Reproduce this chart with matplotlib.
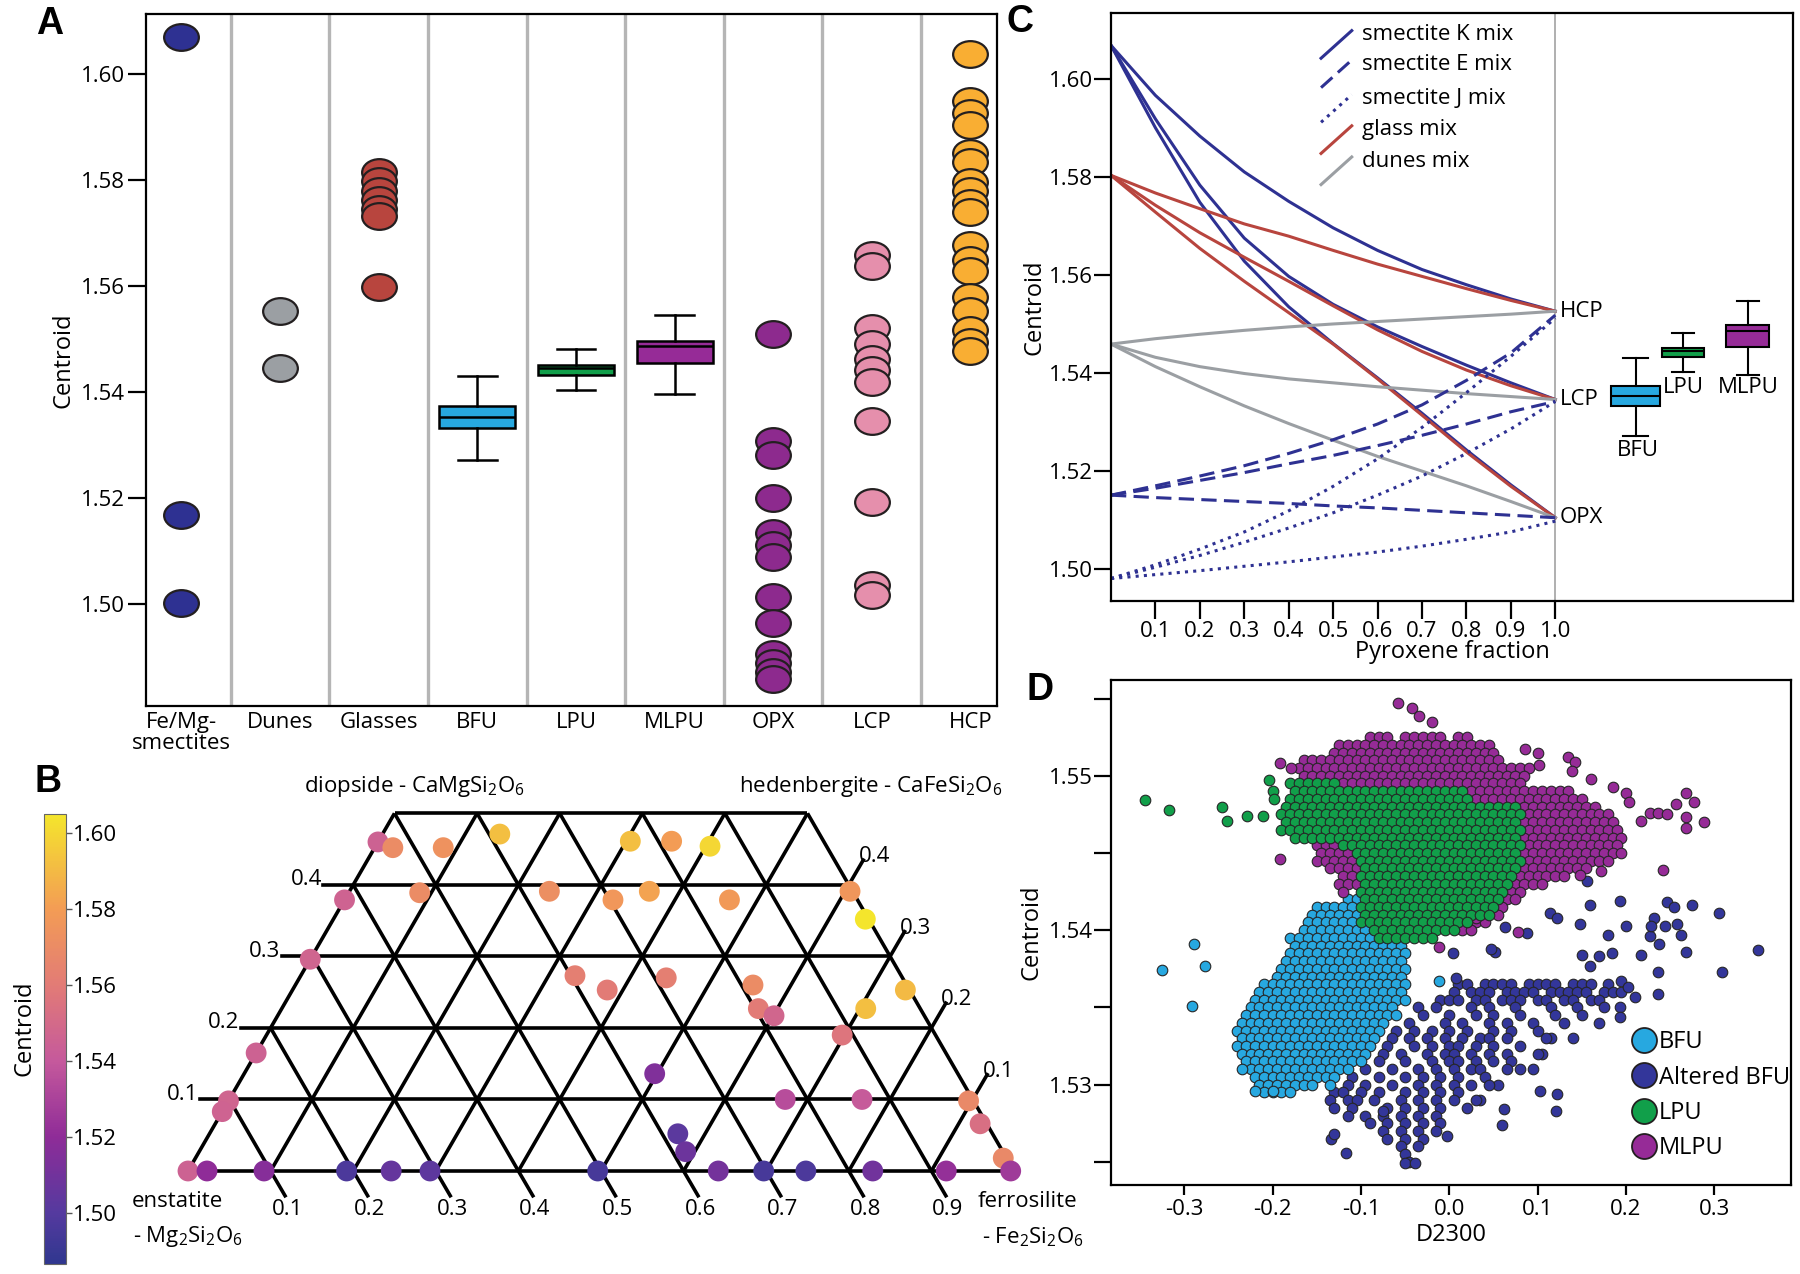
import numpy as np
import matplotlib
matplotlib.use("Agg")
import matplotlib.pyplot as plt
from matplotlib.path import Path
from matplotlib.transforms import Affine2D
from matplotlib.colors import LinearSegmentedColormap
from matplotlib.lines import Line2D

plt.rcParams["font.family"] = ["Open Sans", "DejaVu Sans"]
plt.rcParams["mathtext.fontset"] = "custom"
plt.rcParams["mathtext.rm"] = "Open Sans"
plt.rcParams["mathtext.it"] = "Open Sans"
plt.rcParams["mathtext.default"] = "regular"
plt.rcParams["axes.linewidth"] = 1.6
plt.rcParams["axes.unicode_minus"] = False

# ---------------- panel A data ----------------
a_categories = ["Fe/Mg-\nsmectites", "Dunes", "Glasses", "BFU", "LPU", "MLPU", "OPX", "LCP", "HCP"]
smectite_vals = [1.6069, 1.5168, 1.5003]
dunes_vals = [1.5553, 1.5445]
glass_vals = [1.5815, 1.5798, 1.5780, 1.5762, 1.5746, 1.5733, 1.5598]
opx_vals = [1.5510, 1.5308, 1.5281, 1.5201, 1.5134, 1.5111, 1.5089, 1.5014,
            1.4965, 1.4907, 1.4889, 1.4872, 1.4858]
lcp_vals = [1.5659, 1.5637, 1.5521, 1.5491, 1.5463, 1.5441, 1.5419, 1.5345,
            1.5192, 1.5036, 1.5017]
hcp_vals = [1.6037, 1.5948, 1.5926, 1.5904, 1.5851, 1.5833, 1.5797, 1.5779,
            1.5757, 1.5740, 1.5677, 1.5650, 1.5628, 1.5579, 1.5553, 1.5517,
            1.5494, 1.5477]
# whisker low, q1, median, q3, whisker high
bfu_box = [1.5272, 1.5332, 1.5353, 1.5374, 1.5430]
lpu_box = [1.5403, 1.5432, 1.5445, 1.5452, 1.5481]
mlpu_box = [1.5396, 1.5454, 1.5486, 1.5497, 1.5546]

# ---------------- panel B data (Fs, Wo, centroid) ----------------
b_fs = [0.000, 0.022, 0.083, 0.142, 0.000, 0.086, 0.000, 0.000, 0.000, 0.000,
        0.000, 0.023, 0.092, 0.192, 0.246, 0.293, 0.305, 0.355, 0.405, 0.242,
        0.325, 0.363, 0.466, 0.606, 0.644, 0.742, 0.707, 0.332, 0.381, 0.444,
        0.554, 0.577, 0.601, 0.697, 0.497, 0.673, 0.766, 0.896, 0.926, 0.978,
        0.996, 0.567, 0.589, 0.496, 0.642, 0.697, 0.748, 0.829, 0.918]
b_wo = [0.460, 0.452, 0.452, 0.471, 0.379, 0.389, 0.296, 0.165, 0.098, 0.083,
        0.000, 0.000, 0.000, 0.000, 0.000, 0.000, 0.461, 0.461, 0.454, 0.391,
        0.379, 0.391, 0.379, 0.391, 0.352, 0.253, 0.227, 0.273, 0.253, 0.270,
        0.260, 0.227, 0.217, 0.190, 0.136, 0.100, 0.100, 0.098, 0.066, 0.018,
        0.000, 0.052, 0.027, 0.000, 0.000, 0.000, 0.000, 0.000, 0.000]
b_centroid = [1.545, 1.570, 1.574, 1.592, 1.546, 1.570, 1.547, 1.545, 1.547, 1.546,
              1.545, 1.520, 1.517, 1.497, 1.506, 1.503, 1.592, 1.580, 1.600, 1.572,
              1.577, 1.582, 1.578, 1.576, 1.605, 1.590, 1.592, 1.562, 1.560, 1.562,
              1.570, 1.560, 1.548, 1.556, 1.515, 1.535, 1.541, 1.568, 1.553, 1.568,
              1.526, 1.502, 1.508, 1.495, 1.511, 1.495, 1.497, 1.510, 1.522]
b_grid_ticks = ["0.1", "0.2", "0.3", "0.4", "0.5", "0.6", "0.7", "0.8", "0.9"]

# ---------------- panel C data ----------------
pyx_frac = [0.0, 0.1, 0.2, 0.3, 0.4, 0.5, 0.6, 0.7, 0.8, 0.9, 1.0]
smecK_hcp = [1.6068, 1.5966, 1.5883, 1.5810, 1.5750, 1.5696, 1.5650, 1.5611, 1.5580, 1.5551, 1.5526]
smecK_lcp = [1.6068, 1.5918, 1.5783, 1.5675, 1.5597, 1.5540, 1.5494, 1.5454, 1.5416, 1.5380, 1.5346]
smecK_opx = [1.6068, 1.5900, 1.5748, 1.5628, 1.5535, 1.5460, 1.5390, 1.5318, 1.5243, 1.5172, 1.5105]
smecE_hcp = [1.5151, 1.5170, 1.5190, 1.5211, 1.5236, 1.5264, 1.5296, 1.5335, 1.5385, 1.5441, 1.5518]
smecE_lcp = [1.5151, 1.5165, 1.5181, 1.5197, 1.5215, 1.5232, 1.5252, 1.5273, 1.5296, 1.5321, 1.5342]
smecE_opx = [1.5151, 1.5146, 1.5142, 1.5138, 1.5134, 1.5129, 1.5125, 1.5120, 1.5115, 1.5110, 1.5105]
smecJ_hcp = [1.4981, 1.5009, 1.5041, 1.5076, 1.5119, 1.5169, 1.5225, 1.5289, 1.5360, 1.5434, 1.5512]
smecJ_lcp = [1.4981, 1.5004, 1.5028, 1.5055, 1.5084, 1.5115, 1.5151, 1.5190, 1.5236, 1.5286, 1.5342]
smecJ_opx = [1.4981, 1.4989, 1.4997, 1.5006, 1.5015, 1.5025, 1.5035, 1.5047, 1.5061, 1.5076, 1.5098]
glass_hcp = [1.5803, 1.5767, 1.5735, 1.5704, 1.5679, 1.5650, 1.5622, 1.5597, 1.5572, 1.5548, 1.5526]
glass_lcp = [1.5803, 1.5742, 1.5686, 1.5636, 1.5587, 1.5537, 1.5488, 1.5444, 1.5406, 1.5374, 1.5346]
glass_opx = [1.5803, 1.5728, 1.5654, 1.5587, 1.5523, 1.5459, 1.5388, 1.5314, 1.5239, 1.5169, 1.5105]
dunes_hcp = [1.5459, 1.5470, 1.5479, 1.5487, 1.5494, 1.5500, 1.5505, 1.5510, 1.5515, 1.5520, 1.5526]
dunes_lcp = [1.5459, 1.5432, 1.5413, 1.5399, 1.5388, 1.5380, 1.5372, 1.5365, 1.5358, 1.5352, 1.5346]
dunes_opx = [1.5459, 1.5413, 1.5372, 1.5333, 1.5297, 1.5263, 1.5230, 1.5200, 1.5170, 1.5138, 1.5105]
pyx_endmembers = ["HCP", "LCP", "OPX"]
pyx_end_vals = [1.5526, 1.5346, 1.5105]
c_legend = ["smectite K mix", "smectite E mix", "smectite J mix", "glass mix", "dunes mix"]

# ---------------- panel D data ----------------
# density map of the dense clusters: one character per point
# b = BFU, a = Altered BFU, g = LPU, m = MLPU
d_map = [
    "...............mmm.mmmmm.mm...................",
    "...........mmmmmmmmmmmmmmmmmm.................",
    "...........mmmmmmmmmmmmmmmmmmm................",
    ".......mmmmmmmmmmmmmmmmmmmmmmm................",
    ".......mmmmmmmmmmmmmmmmmmmmmmmmmmm............",
    ".......mmmmmmmmmmmmmmmmmmmmmmmmmm.............",
    "......ggggggmmmmmmmmmmmmmmmmmmmmm.............",
    "......ggggggggggggggggggggmmmmmmmmmmmm........",
    "......gggggggggggggggggggggmmmmmmmmmmmmm......",
    ".....gggggggggggggggggggggggggggmmmmmmmmm.....",
    ".....ggggggggggggggggggggggggggggmmmmmmmmmm...",
    ".....gggggggggggggggggggggggggggmmmmmmmmmmm...",
    ".....ggggggggggggggggggggggggggggmmmmmmmmmmm..",
    "......ggggggggggggggggggggggggggmmmmmmmmmmmm..",
    ".........mmmgggggggggggggggggggggmmmmmmmmmmm..",
    ".........mmmmgggggggggggggggggggmmmmmmmmmmmm..",
    ".........mmmmmgggggggggggggggggggmmmmmmmmmm...",
    "..........mmmmggggggggggggggggggmmmmmmmm......",
    "............mmggggggggggggggggggmmmmmm........",
    "...........mmmgggggggggggggggggmmmm...........",
    "............m.gggggggggggggggggmm.............",
    "............bbggggggggggggggggmm..............",
    ".........bbbbbggggggggggggggggm...............",
    "........bbbbbbgggggggggggggggm................",
    "........bbbbbbgggggggggggggmm.................",
    ".......bbbbbbbbggggggggggmm...................",
    "......bbbbbbbbbbggggggg.......................",
    "......bbbbbbbbbbbbb...........................",
    "......bbbbbbbbbbbbbb..........................",
    ".....bbbbbbbbbbbbbb...........................",
    ".....bbbbbbbbbbbbbbb..........................",
    "....bbbbbbbbbbbbbbb...........................",
    "...bbbbbbbbbbbbbbbbb.....aa.aaaa.aaaa.aaa.a...",
    "..bbbbbbbbbbbbbbbbb.....a.aaa.aaaa.aaaaa.aaa..",
    "..bbbbbbbbbbbbbbbbbb...aaa.aa.aaa.aa.aa.aa....",
    ".bbbbbbbbbbbbbbbbb..a.a...a.a..a...a..a..a....",
    ".bbbbbbbbbbbbbbbbbb..a..a..a.a..a...a.........",
    "bbbbbbbbbbbbbbbbb..a...a.a..a.a..a............",
    "bbbbbbbbbbbbbbbbb.a.a.a.a.a..a.a..a...........",
    "bbbbbbbbbbbbbbbb.a.a.a.a.a.aa.a....a..........",
    "bbbbbbbbbbbbbbbb.a..a.a.aa.a.a..a.............",
    "bbbbbbbbbbbbbbb.a.a..a.aa.a.a.a...a...........",
    ".bbbbbbbbbbbbbb.a..a..a.aa.a.a.a..............",
    ".bbbbbbbbbbbb.a..a..a.a.a.aa..a..a............",
    "..bbbbbbbbbb.a..a..a.a.a.a..a.................",
    "..bbbbbbb.b.a.a..a..a.a.a.a..a................",
    "...bbbb....aa.a.a..a.a.a.a....................",
    "..........a.aa.a..a.a.a.a..a..................",
    "...........a.a...a.a.a.a..a...................",
    "............a.a.a.a.a.a.......................",
    "...............a.a.a.a.a......................",
    "................a.a.a.a.......................",
    ".................a.a.a........................",
    "..................a.a.........................",
    "...................a..........................",
    "...................a..........................",
]
d_map_x0, d_map_dx = -0.24, 0.01
d_map_y0, d_map_dy = 1.5525, 0.0005

# scattered points outside the dense clusters
bfu_extra = [(-0.325, 1.5374), (-0.289, 1.5391), (-0.276, 1.5377), (-0.291, 1.5351),
             (-0.012, 1.5367), (0.041, 1.5422), (-0.128, 1.5443), (-0.235, 1.5310),
             (-0.220, 1.5296), (-0.200, 1.5296)]
lpu_extra = [(-0.345, 1.5484), (-0.317, 1.5478), (-0.257, 1.5480), (-0.252, 1.5471),
             (-0.229, 1.5474), (-0.211, 1.5474), (-0.204, 1.5497), (-0.200, 1.5490),
             (-0.198, 1.5485)]
mlpu_extra = [(-0.058, 1.5547), (-0.042, 1.5544), (-0.034, 1.5539), (-0.019, 1.5535),
              (-0.192, 1.5508), (-0.179, 1.5505), (0.086, 1.5517), (0.101, 1.5515),
              (0.135, 1.5512), (0.142, 1.5509), (0.102, 1.5507), (0.139, 1.5503),
              (0.200, 1.5489), (0.204, 1.5483), (0.217, 1.5471), (0.227, 1.5476),
              (0.236, 1.5476), (0.247, 1.5475), (0.257, 1.5482), (0.268, 1.5489),
              (0.277, 1.5483), (0.268, 1.5473), (0.268, 1.5466), (0.288, 1.5470),
              (0.172, 1.5438), (0.242, 1.5439), (-0.192, 1.5446), (-0.012, 1.5389),
              (0.030, 1.5408), (0.078, 1.5399), (0.148, 1.5436), (0.160, 1.5498),
              (0.185, 1.5493)]
altered_extra = [(0.156, 1.5432), (0.193, 1.5419), (0.247, 1.5418), (0.255, 1.5415),
                 (0.275, 1.5416), (0.305, 1.5411), (0.159, 1.5416), (0.114, 1.5411),
                 (0.122, 1.5408), (0.148, 1.5404), (0.180, 1.5397), (0.232, 1.5408),
                 (0.244, 1.5403), (0.258, 1.5404), (0.262, 1.5397), (0.227, 1.5396),
                 (0.238, 1.5391), (0.217, 1.5384), (0.268, 1.5386), (0.236, 1.5373),
                 (0.236, 1.5359), (0.309, 1.5373), (0.350, 1.5387), (0.052, 1.5386),
                 (0.063, 1.5402), (0.088, 1.5398), (0.150, 1.5384), (0.159, 1.5377),
                 (0.170, 1.5383), (0.184, 1.5385), (0.195, 1.5367), (0.202, 1.5363),
                 (0.210, 1.5357), (0.193, 1.5350), (0.193, 1.5344), (0.004, 1.5385),
                 (0.047, 1.5388), (0.200, 1.5403), (0.228, 1.5403), (0.008, 1.5369),
                 (-0.134, 1.5265), (-0.117, 1.5256), (-0.131, 1.5268), (-0.050, 1.5249),
                 (-0.039, 1.5249), (0.121, 1.5283), (0.060, 1.5274), (0.103, 1.5296),
                 (0.062, 1.5284), (0.122, 1.5294), (0.030, 1.5290), (0.045, 1.5300),
                 (0.080, 1.5310), (0.100, 1.5320), (0.110, 1.5330), (0.130, 1.5340),
                 (0.150, 1.5345), (0.170, 1.5340), (0.140, 1.5330), (-0.075, 1.5283),
                 (-0.002, 1.5267)]
d_groups = ["BFU", "Altered BFU", "LPU", "MLPU"]

# ---------------- colours ----------------
c_smec = "#2e3192"
c_dunes = "#9b9fa3"
c_glass = "#b8453e"
c_bfu = "#27a8e0"
c_lpu = "#119f4a"
c_mlpu = "#962b97"
c_opx = "#8d2a8e"
c_lcp = "#e58fac"
c_hcp = "#f9ae33"
edge = "#231f20"

W, H = 1800, 1274
fig = plt.figure(figsize=(W / 100, H / 100), dpi=100)


def fax(l, t, r, b):
    return fig.add_axes([l / W, 1 - b / H, (r - l) / W, (b - t) / H])


# ================= panel A =================
ax_a = fax(146, 14, 997, 706)
circ = Path.unit_circle()
ell = Path(Affine2D().scale(1.3, 1.0).transform(circ.vertices), circ.codes)

for i in range(len(a_categories) - 1):
    ax_a.axvline(i + 0.5, color="#b5b5b5", lw=2.4, zorder=0)

for pos, vals, col in [(0, smectite_vals, c_smec), (1, dunes_vals, c_dunes),
                       (2, glass_vals, c_glass), (6, opx_vals, c_opx),
                       (7, lcp_vals, c_lcp), (8, hcp_vals, c_hcp)]:
    ax_a.plot([pos] * len(vals), vals, ls="none", marker=ell, ms=25,
              mfc=col, mec=edge, mew=1.6, zorder=3)


def box_stats(v):
    return dict(whislo=v[0], q1=v[1], med=v[2], q3=v[3], whishi=v[4], fliers=[])


bx = ax_a.bxp([box_stats(bfu_box), box_stats(lpu_box), box_stats(mlpu_box)],
              positions=[3, 4, 5], widths=0.77, capwidths=0.39,
              patch_artist=True, showfliers=False, manage_ticks=False,
              boxprops=dict(lw=1.8, edgecolor="k"),
              medianprops=dict(color="k", lw=1.8),
              whiskerprops=dict(color="k", lw=1.8),
              capprops=dict(color="k", lw=1.8))
for patch, col in zip(bx["boxes"], [c_bfu, c_lpu, c_mlpu]):
    patch.set_facecolor(col)

ax_a.set_xlim(-0.36, 8.27)
ax_a.set_ylim(1.4808, 1.6113)
ax_a.set_yticks([1.50, 1.52, 1.54, 1.56, 1.58, 1.60])
ax_a.set_yticklabels(["1.50", "1.52", "1.54", "1.56", "1.58", "1.60"])
ax_a.set_xticks(range(len(a_categories)))
ax_a.set_xticklabels(a_categories, linespacing=1.05)
ax_a.tick_params(axis="y", length=13, width=1.6, labelsize=16, pad=2)
ax_a.tick_params(axis="x", length=0, labelsize=16, pad=4)
ax_a.set_ylabel("Centroid", fontsize=17, labelpad=4)

# ================= panel B =================
ax_b = fax(105.4, 758, 1096.6, 1270.1)
ax_b.set_xlim(-0.1, 1.1)
ax_b.set_ylim(-0.12, 0.5)
ax_b.axis("off")
s3 = np.sqrt(3) / 2


def tern(fs, wo):
    return fs + wo / 2, wo * s3


glw = 2.6
for k in range(10):
    f = k / 10
    wmax = min(0.5, 1 - f)
    p0, p1 = tern(f, 0), tern(f, wmax)
    ax_b.plot([p0[0], p1[0]], [p0[1], p1[1]], color="k", lw=glw, solid_capstyle="butt")
    e = k / 10
    wmax = min(0.5, 1 - e)
    p0, p1 = tern(1 - e, 0), tern(1 - e - wmax, wmax)
    ax_b.plot([p0[0], p1[0]], [p0[1], p1[1]], color="k", lw=glw, solid_capstyle="butt")
for k in range(6):
    wo = k / 10
    p0, p1 = tern(0, wo), tern(1 - wo, wo)
    ax_b.plot([p0[0], p1[0]], [p0[1], p1[1]], color="k", lw=glw, solid_capstyle="butt")

for k in range(1, 10):
    x0, y0 = tern(k / 10, 0)
    ax_b.plot([x0, x0 + 0.0175], [y0, y0 - 0.030], color="k", lw=glw)
    ax_b.text(x0 + 0.02, -0.047, b_grid_ticks[k - 1], ha="center", va="center", fontsize=16)
for k in range(1, 5):
    x0, y0 = tern(0, k / 10)
    ax_b.plot([x0, x0 - 0.036], [y0, y0], color="k", lw=glw)
    ax_b.text(x0 - 0.038, y0 + 0.006, b_grid_ticks[k - 1], ha="right", va="center", fontsize=16)
    x1, y1 = tern(1 - k / 10, k / 10)
    ax_b.plot([x1, x1 + 0.0175], [y1, y1 + 0.030], color="k", lw=glw)
    ax_b.text(x1 + 0.012, y1 + 0.034, b_grid_ticks[k - 1], ha="left", va="center", fontsize=16)

ax_b.text(0.274, 0.466, "diopside - CaMgSi$_2$O$_6$", ha="center", va="center", fontsize=16)
ax_b.text(0.826, 0.466, "hedenbergite - CaFeSi$_2$O$_6$", ha="center", va="center", fontsize=16)
ax_b.text(-0.068, -0.037, "enstatite", ha="left", va="center", fontsize=16)
ax_b.text(-0.066, -0.079, "- Mg$_2$Si$_2$O$_6$", ha="left", va="center", fontsize=16)
ax_b.text(0.956, -0.037, "ferrosilite", ha="left", va="center", fontsize=16)
ax_b.text(0.961, -0.080, "- Fe$_2$Si$_2$O$_6$", ha="left", va="center", fontsize=16)

cb_vmin, cb_vmax = 1.4866, 1.605
cb_stops = [(1.4866, "#30378f"), (1.50, "#553a9f"), (1.52, "#8f2c98"),
            (1.54, "#c5599c"), (1.56, "#e27b76"), (1.58, "#f39c55"), (1.605, "#f4e52c")]
cmap_b = LinearSegmentedColormap.from_list(
    "centroid", [((v - cb_vmin) / (cb_vmax - cb_vmin), c) for v, c in cb_stops])
bx_pts, by_pts = tern(np.array(b_fs), np.array(b_wo))
sc_b = ax_b.scatter(bx_pts, by_pts, c=b_centroid, cmap=cmap_b, vmin=cb_vmin,
                    vmax=cb_vmax, s=225, edgecolors="none", zorder=5, clip_on=False)

cax_b = fax(43.6, 814, 66, 1264)
cb = fig.colorbar(sc_b, cax=cax_b, ticks=[1.50, 1.52, 1.54, 1.56, 1.58, 1.60])
cb.ax.set_yticklabels(["1.50", "1.52", "1.54", "1.56", "1.58", "1.60"])
cb.ax.tick_params(length=4, width=1.0, labelsize=16, pad=1, color="#555555")
cb.outline.set_linewidth(0.8)
cb.outline.set_edgecolor("#666666")
fig.text(25 / W, 1 - 1028 / H, "Centroid", rotation=90, ha="center", va="center", fontsize=17)

# ================= panel C =================
ax_c = fax(1111, 13, 1793, 600.6)
ax_c.axvline(1.0, color="#a9a9a9", lw=1.3, zorder=0)
lw_c = 2.2
for ys in [smecK_hcp, smecK_lcp, smecK_opx]:
    ax_c.plot(pyx_frac, ys, color=c_smec, lw=lw_c)
for ys in [glass_hcp, glass_lcp, glass_opx]:
    ax_c.plot(pyx_frac, ys, color=c_glass, lw=lw_c)
for ys in [dunes_hcp, dunes_lcp, dunes_opx]:
    ax_c.plot(pyx_frac, ys, color=c_dunes, lw=lw_c)
for ys in [smecE_hcp, smecE_lcp, smecE_opx]:
    ax_c.plot(pyx_frac, ys, color=c_smec, lw=lw_c, dashes=(5, 2.4))
for ys in [smecJ_hcp, smecJ_lcp, smecJ_opx]:
    ax_c.plot(pyx_frac, ys, color=c_smec, lw=lw_c, dashes=(1.0, 1.7))

for name, v in zip(pyx_endmembers, pyx_end_vals):
    ax_c.text(1.01, v, name, ha="left", va="center", fontsize=16)

bc = ax_c.bxp([box_stats(bfu_box), box_stats(lpu_box), box_stats(mlpu_box)],
              positions=[1.181, 1.287, 1.433], widths=[0.11, 0.095, 0.097],
              capwidths=[0.057, 0.05, 0.05],
              patch_artist=True, showfliers=False, manage_ticks=False,
              boxprops=dict(lw=1.5, edgecolor="k"),
              medianprops=dict(color="k", lw=1.5),
              whiskerprops=dict(color="k", lw=1.5),
              capprops=dict(color="k", lw=1.5))
for patch, col in zip(bc["boxes"], [c_bfu, c_lpu, c_mlpu]):
    patch.set_facecolor(col)
ax_c.text(1.186, 1.5242, "BFU", ha="center", va="center", fontsize=16)
ax_c.text(1.289, 1.5370, "LPU", ha="center", va="center", fontsize=16)
ax_c.text(1.435, 1.5370, "MLPU", ha="center", va="center", fontsize=16)

leg_y = [0.963, 0.913, 0.854, 0.801, 0.748]
leg_style = [dict(color=c_smec), dict(color=c_smec, dashes=(5, 2.4)),
             dict(color=c_smec, dashes=(1.0, 1.7)), dict(color=c_glass),
             dict(color=c_dunes)]
for lab, yy, st in zip(c_legend, leg_y, leg_style):
    ax_c.plot([0.308, 0.353], [yy - 0.040, yy + 0.007], transform=ax_c.transAxes, lw=lw_c, **st)
    ax_c.text(0.368, yy, lab, transform=ax_c.transAxes, ha="left", va="center", fontsize=16)

ax_c.set_xlim(0, 1.535)
ax_c.set_ylim(1.4936, 1.6134)
ax_c.set_xticks(pyx_frac[1:])
ax_c.set_xticklabels(["0.1", "0.2", "0.3", "0.4", "0.5", "0.6", "0.7", "0.8", "0.9", "1.0"])
ax_c.set_yticks([1.50, 1.52, 1.54, 1.56, 1.58, 1.60])
ax_c.set_yticklabels(["1.50", "1.52", "1.54", "1.56", "1.58", "1.60"])
ax_c.tick_params(axis="y", length=12, width=1.6, labelsize=16, pad=1)
ax_c.tick_params(axis="x", length=13, width=1.6, labelsize=16, pad=2)
ax_c.set_xlabel("Pyroxene fraction", fontsize=17, labelpad=-2)
ax_c.set_ylabel("Centroid", fontsize=17, labelpad=2)

# ================= panel D =================
ax_d = fax(1111, 680, 1791, 1185)
key = {"b": "BFU", "a": "Altered BFU", "g": "LPU", "m": "MLPU"}
pts = {g: [[], []] for g in d_groups}
for r, row in enumerate(d_map):
    for c, ch in enumerate(row):
        if ch in key:
            pts[key[ch]][0].append(d_map_x0 + c * d_map_dx + (d_map_dx / 2 if r % 2 else 0))
            pts[key[ch]][1].append(d_map_y0 - r * d_map_dy)
for g, extra in zip(d_groups, [bfu_extra, altered_extra, lpu_extra, mlpu_extra]):
    for x, y in extra:
        pts[g][0].append(x)
        pts[g][1].append(y)

d_cols = {"BFU": c_bfu, "Altered BFU": "#33369a", "LPU": c_lpu, "MLPU": c_mlpu}
for g in ["Altered BFU", "BFU", "MLPU", "LPU"]:
    ax_d.scatter(pts[g][0], pts[g][1], s=58, c=d_cols[g], edgecolors="#262626",
                 linewidths=0.8, zorder=3)

handles = [Line2D([], [], ls="none", marker="o", ms=18, mfc=d_cols[g], mec=edge, mew=1.3)
           for g in d_groups]
ax_d.legend(handles, d_groups, loc="lower right", bbox_to_anchor=(1.012, 0.03),
            frameon=False, fontsize=17, handletextpad=-0.1, labelspacing=0.48,
            borderaxespad=0.0, handlelength=1.4)

ax_d.set_xlim(-0.383, 0.387)
ax_d.set_ylim(1.5235, 1.5562)
ax_d.set_xticks([-0.3, -0.2, -0.1, 0.0, 0.1, 0.2, 0.3])
ax_d.set_xticklabels(["-0.3", "-0.2", "-0.1", "0.0", "0.1", "0.2", "0.3"])
ax_d.set_yticks([1.53, 1.54, 1.55])
ax_d.set_yticklabels(["1.53", "1.54", "1.55"])
ax_d.set_yticks([1.525, 1.535, 1.545, 1.555], minor=True)
ax_d.tick_params(axis="y", which="both", length=12, width=1.6, labelsize=16, pad=1)
ax_d.tick_params(axis="x", length=7, width=1.6, labelsize=16, pad=3)
ax_d.set_xlabel("D2300", fontsize=17, labelpad=2)
ax_d.set_ylabel("Centroid", fontsize=17, labelpad=4)

# panel letters
for lab, (px, py) in zip("ABCD", [(50, 24), (48, 782), (1020, 22), (1040, 690)]):
    fig.text(px / W, 1 - py / H, lab, ha="center", va="center", fontsize=27,
             fontweight="bold", family=["Liberation Sans", "DejaVu Sans"])

fig.savefig("out.png", dpi=100)
